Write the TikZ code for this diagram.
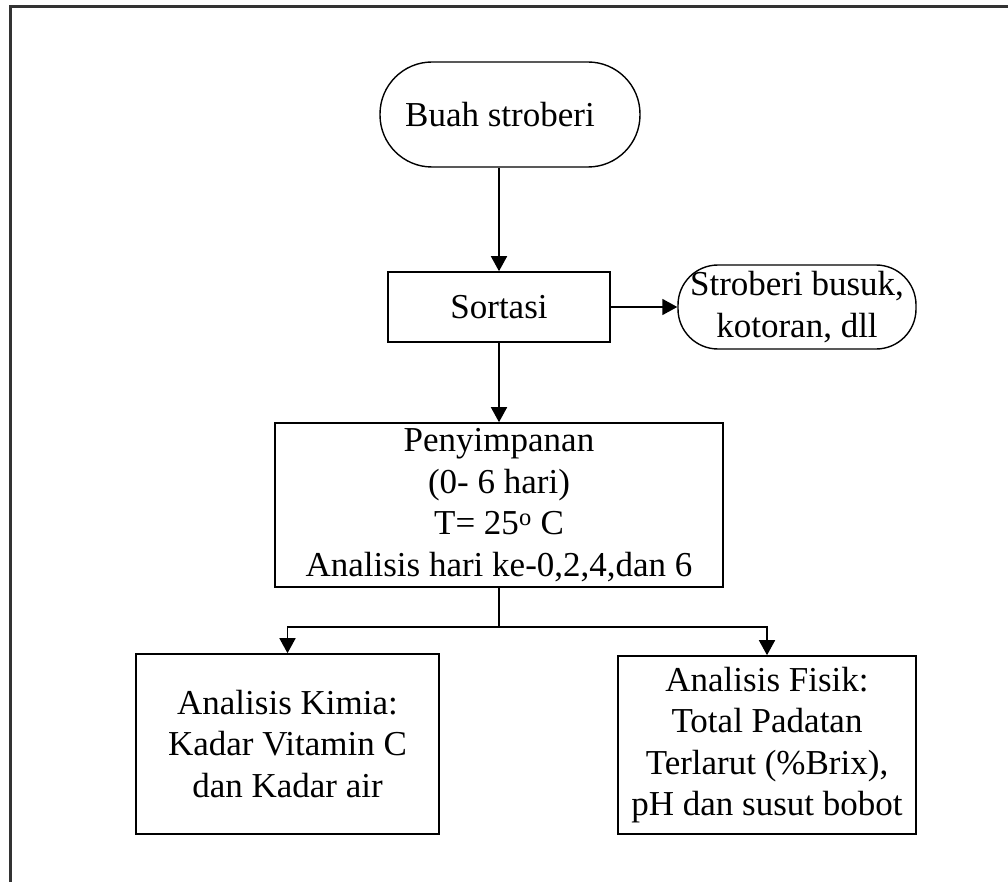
\documentclass[tikz,border=0pt]{standalone}
\usepackage{fontspec}
\setmainfont{Liberation Serif}
\usetikzlibrary{arrows.meta}
\begin{document}
\begin{tikzpicture}[x=1pt,y=-1pt,
  every node/.style={font=\fontsize{35}{41.5}\selectfont, align=center, inner sep=0pt},
  box/.style={draw, line width=1.6pt, rectangle},
  pill/.style={draw, line width=1.4pt, rectangle},
  arr/.style={line width=1.6pt, -{Triangle[length=15pt,width=16pt]}},
  link/.style={line width=1.6pt}]
  \useasboundingbox (0,0) rectangle (1008,882);
  \clip (0,0) rectangle (1008,882);
  % outer frame
  \draw[line width=2.4pt, black!80] (10.5,900) -- (10.5,6.5) -- (1030,6.5);

  % process steps
  \node[pill, rounded corners=52pt, minimum width=260pt, minimum height=105pt] (buah) at (510,114.5) {\hspace*{-20pt}Buah stroberi};
  \node[box, minimum width=222pt, minimum height=70pt] (sort) at (499,307) {Sortasi};
  \node[pill, rounded corners=40pt, minimum width=238pt, minimum height=84pt] (waste) at (797,307) {Stroberi busuk,\\kotoran, dll};
  \node[box, minimum width=448pt, minimum height=164pt] (simpan) at (499,505) {Penyimpanan\\(0- 6 hari)\\T= 25\textsuperscript{o} C\\Analisis hari ke-0,2,4,dan 6};
  \node[box, minimum width=303pt, minimum height=180pt] (kimia) at (287.5,744) {Analisis Kimia:\\Kadar Vitamin C\\dan Kadar air};
  \node[box, minimum width=298pt, minimum height=178pt] (fisik) at (767,745) {Analisis Fisik:\\Total Padatan\\Terlarut (\%Brix),\\pH dan susut bobot};

  % connectors
  \draw[arr] (buah.south -| sort.north) -- (sort.north);
  \draw[arr] (sort.east) -- (waste.west);
  \draw[arr] (sort.south) -- (simpan.north);
  \draw[link] (simpan.south) -- ++(0,39) coordinate (split);
  \draw[arr] (split) -| (kimia.north);
  \draw[arr] (split) -| (fisik.north);
\end{tikzpicture}
\end{document}
